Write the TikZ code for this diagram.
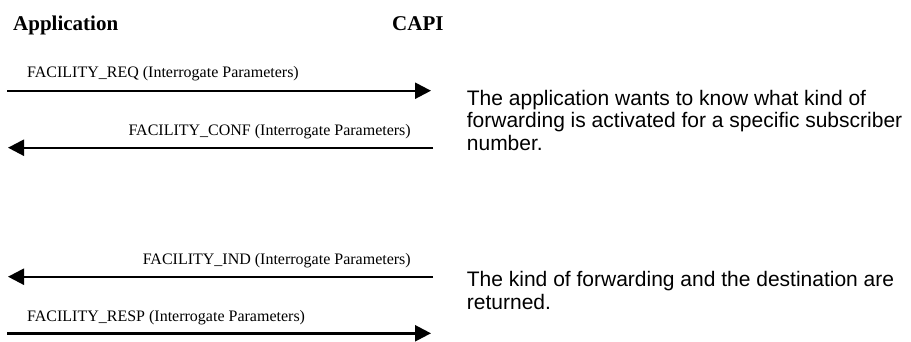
\documentclass[tikz,border=0pt]{standalone}
\usepackage{fontspec}
\setmainfont{Liberation Serif}
\newfontfamily\arialfont{Liberation Sans}
\usetikzlibrary{arrows.meta}
\begin{document}
\begin{tikzpicture}[x=1pt,y=-1pt,
  party/.style={inner sep=0pt,font=\fontsize{21}{25}\selectfont\bfseries},
  msg/.style={inner sep=0pt,font=\fontsize{16}{19}\selectfont},
  note/.style={inner sep=0pt,align=left,font=\arialfont\fontsize{21}{22.5}\selectfont},
  msgarrow/.style={line width=2.4pt,-{Triangle[length=16pt,width=16pt]}}]
\path[use as bounding box] (0,0) rectangle (911,341);
% parties
\node[party,anchor=base west] (app) at (13,30.7) {Application};
\node[party,anchor=base west] (capi) at (392,30.7) {CAPI};
% endpoints
\coordinate (reqL) at (7,90.7);   \coordinate (reqR) at (431,90.7);
\coordinate (confR) at (433,147.7); \coordinate (confL) at (8,147.7);
\coordinate (indR) at (433,276.7);  \coordinate (indL) at (8,276.7);
\coordinate (respL) at (7,333.3);  \coordinate (respR) at (431,333.3);
% messages
\draw[msgarrow] (reqL) -- (reqR);
\node[msg,anchor=base west] (reqlab) at (27,77.7) {FACILITY\_REQ (Interrogate Parameters)};
\draw[msgarrow] (confR) -- (confL);
\node[msg,anchor=base east] (conflab) at (411,135) {FACILITY\_CONF (Interrogate Parameters)};
\draw[msgarrow] (indR) -- (indL);
\node[msg,anchor=base east] (indlab) at (411,264.3) {FACILITY\_IND (Interrogate Parameters)};
\draw[msgarrow] (respL) -- (respR);
\node[msg,anchor=base west] (resplab) at (27,321.7) {FACILITY\_RESP (Interrogate Parameters)};
% notes (base anchor = baseline of last line)
\node[note,anchor=base west] (note1) at (466.7,150) {The application wants to know what kind of\\forwarding is activated for a specific subscriber\\number.};
\node[note,anchor=base west] (note2) at (466.7,309.2) {The kind of forwarding and the destination are\\returned.};
\end{tikzpicture}
\end{document}
